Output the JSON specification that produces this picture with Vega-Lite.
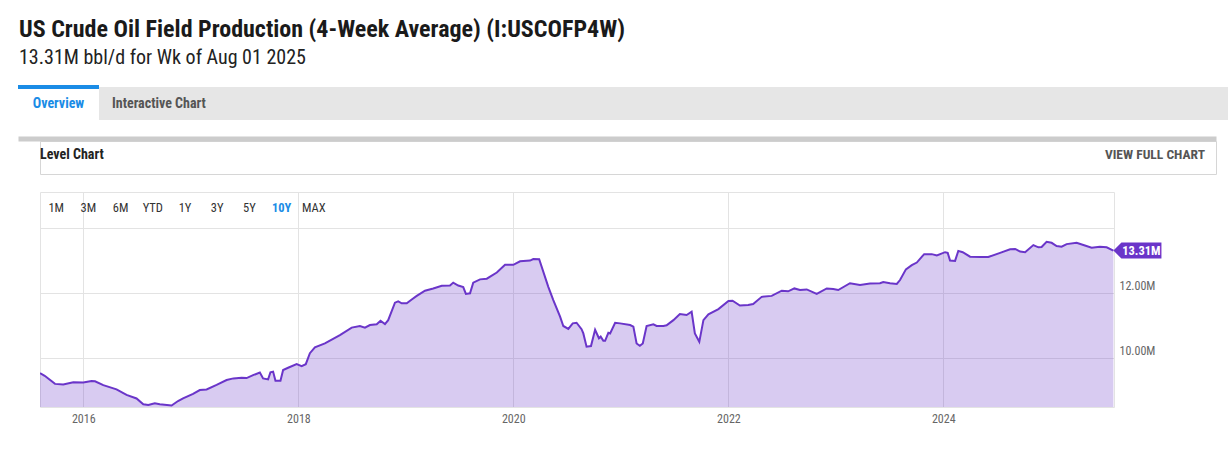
{
  "$schema": "https://vega.github.io/schema/vega-lite/v6.json",
  "padding": {"left": 16, "top": 18, "right": 0, "bottom": 0},
  "background": "white",
  "title": {
    "text": "US Crude Oil Field Production (4-Week Average) (I:USCOFP4W)",
    "subtitle": "13.31M bbl/d for Wk of Aug 01 2025",
    "anchor": "start",
    "frame": "group",
    "font": "Roboto Condensed, Liberation Sans Narrow, Roboto",
    "fontSize": 24,
    "fontWeight": "bold",
    "color": "#1a1a1a",
    "subtitleFont": "Roboto Condensed, Liberation Sans Narrow, Roboto",
    "subtitleFontSize": 20,
    "subtitleColor": "#222222",
    "subtitlePadding": 6,
    "offset": 17,
    "dx": -21
  },
  "datasets": {
    "tabs": [
      {"tab": "Overview", "active": true},
      {"tab": "Interactive Chart", "active": false}
    ],
    "header": [
      {"h": "Level Chart"},
      {"h": "VIEW FULL CHART"}
    ],
    "ranges": [
      {"range": "1M"}, {"range": "3M"}, {"range": "6M"}, {"range": "YTD"}, {"range": "1Y"},
      {"range": "3Y"}, {"range": "5Y"}, {"range": "10Y"}, {"range": "MAX"}
    ],
    "prod": [
      {"date": "2015-08-07", "value": 9520000},
      {"date": "2015-08-23", "value": 9440000},
      {"date": "2015-09-27", "value": 9190000},
      {"date": "2015-10-25", "value": 9170000},
      {"date": "2015-11-28", "value": 9240000},
      {"date": "2016-01-01", "value": 9230000},
      {"date": "2016-01-29", "value": 9280000},
      {"date": "2016-02-10", "value": 9270000},
      {"date": "2016-03-09", "value": 9150000},
      {"date": "2016-04-23", "value": 9020000},
      {"date": "2016-05-27", "value": 8850000},
      {"date": "2016-06-30", "value": 8740000},
      {"date": "2016-07-23", "value": 8560000},
      {"date": "2016-08-09", "value": 8540000},
      {"date": "2016-08-31", "value": 8590000},
      {"date": "2016-09-17", "value": 8560000},
      {"date": "2016-10-27", "value": 8520000},
      {"date": "2016-11-18", "value": 8660000},
      {"date": "2016-12-05", "value": 8740000},
      {"date": "2017-01-08", "value": 8880000},
      {"date": "2017-01-31", "value": 9000000},
      {"date": "2017-02-23", "value": 9020000},
      {"date": "2017-03-29", "value": 9160000},
      {"date": "2017-05-02", "value": 9310000},
      {"date": "2017-05-25", "value": 9360000},
      {"date": "2017-06-22", "value": 9380000},
      {"date": "2017-07-09", "value": 9370000},
      {"date": "2017-07-31", "value": 9460000},
      {"date": "2017-08-23", "value": 9540000},
      {"date": "2017-09-03", "value": 9360000},
      {"date": "2017-09-20", "value": 9330000},
      {"date": "2017-09-28", "value": 9550000},
      {"date": "2017-10-07", "value": 9570000},
      {"date": "2017-10-15", "value": 9290000},
      {"date": "2017-11-01", "value": 9290000},
      {"date": "2017-11-10", "value": 9620000},
      {"date": "2017-11-27", "value": 9690000},
      {"date": "2017-12-26", "value": 9800000},
      {"date": "2018-01-12", "value": 9740000},
      {"date": "2018-01-26", "value": 9800000},
      {"date": "2018-02-09", "value": 10140000},
      {"date": "2018-02-26", "value": 10320000},
      {"date": "2018-04-01", "value": 10440000},
      {"date": "2018-05-22", "value": 10700000},
      {"date": "2018-07-01", "value": 10930000},
      {"date": "2018-07-29", "value": 10980000},
      {"date": "2018-08-15", "value": 10930000},
      {"date": "2018-09-01", "value": 11010000},
      {"date": "2018-09-24", "value": 11030000},
      {"date": "2018-10-07", "value": 11140000},
      {"date": "2018-10-22", "value": 11040000},
      {"date": "2018-11-02", "value": 11160000},
      {"date": "2018-11-25", "value": 11700000},
      {"date": "2018-12-06", "value": 11740000},
      {"date": "2018-12-18", "value": 11680000},
      {"date": "2019-01-04", "value": 11680000},
      {"date": "2019-01-21", "value": 11800000},
      {"date": "2019-02-07", "value": 11910000},
      {"date": "2019-03-07", "value": 12070000},
      {"date": "2019-04-04", "value": 12140000},
      {"date": "2019-05-03", "value": 12220000},
      {"date": "2019-05-31", "value": 12230000},
      {"date": "2019-06-11", "value": 12320000},
      {"date": "2019-06-28", "value": 12230000},
      {"date": "2019-07-15", "value": 12180000},
      {"date": "2019-07-24", "value": 11970000},
      {"date": "2019-08-07", "value": 11990000},
      {"date": "2019-08-18", "value": 12320000},
      {"date": "2019-09-10", "value": 12420000},
      {"date": "2019-10-03", "value": 12440000},
      {"date": "2019-11-06", "value": 12630000},
      {"date": "2019-12-04", "value": 12870000},
      {"date": "2020-01-01", "value": 12870000},
      {"date": "2020-01-24", "value": 12980000},
      {"date": "2020-02-27", "value": 13000000},
      {"date": "2020-03-09", "value": 13050000},
      {"date": "2020-03-29", "value": 13040000},
      {"date": "2020-04-29", "value": 12190000},
      {"date": "2020-05-16", "value": 11780000},
      {"date": "2020-06-08", "value": 11270000},
      {"date": "2020-06-19", "value": 10980000},
      {"date": "2020-07-06", "value": 10890000},
      {"date": "2020-07-21", "value": 11060000},
      {"date": "2020-08-03", "value": 11080000},
      {"date": "2020-08-20", "value": 10880000},
      {"date": "2020-08-26", "value": 10750000},
      {"date": "2020-09-06", "value": 10340000},
      {"date": "2020-09-21", "value": 10360000},
      {"date": "2020-10-05", "value": 10860000},
      {"date": "2020-10-18", "value": 10600000},
      {"date": "2020-10-24", "value": 10650000},
      {"date": "2020-11-02", "value": 10520000},
      {"date": "2020-11-08", "value": 10520000},
      {"date": "2020-11-19", "value": 10770000},
      {"date": "2020-11-25", "value": 10750000},
      {"date": "2020-12-12", "value": 11080000},
      {"date": "2020-12-29", "value": 11060000},
      {"date": "2021-02-01", "value": 11010000},
      {"date": "2021-02-12", "value": 10960000},
      {"date": "2021-02-23", "value": 10440000},
      {"date": "2021-03-06", "value": 10370000},
      {"date": "2021-03-16", "value": 10440000},
      {"date": "2021-03-29", "value": 10980000},
      {"date": "2021-04-21", "value": 11030000},
      {"date": "2021-05-02", "value": 10980000},
      {"date": "2021-05-25", "value": 10980000},
      {"date": "2021-06-05", "value": 11000000},
      {"date": "2021-06-28", "value": 11160000},
      {"date": "2021-07-20", "value": 11350000},
      {"date": "2021-08-12", "value": 11320000},
      {"date": "2021-08-29", "value": 11420000},
      {"date": "2021-09-09", "value": 10750000},
      {"date": "2021-09-24", "value": 10490000},
      {"date": "2021-10-08", "value": 11160000},
      {"date": "2021-10-25", "value": 11340000},
      {"date": "2021-11-28", "value": 11500000},
      {"date": "2022-01-01", "value": 11750000},
      {"date": "2022-01-15", "value": 11760000},
      {"date": "2022-02-09", "value": 11610000},
      {"date": "2022-03-09", "value": 11630000},
      {"date": "2022-03-26", "value": 11660000},
      {"date": "2022-04-24", "value": 11880000},
      {"date": "2022-05-28", "value": 11910000},
      {"date": "2022-07-01", "value": 12070000},
      {"date": "2022-07-23", "value": 12050000},
      {"date": "2022-08-13", "value": 12140000},
      {"date": "2022-09-01", "value": 12090000},
      {"date": "2022-09-24", "value": 12110000},
      {"date": "2022-10-28", "value": 11970000},
      {"date": "2022-12-01", "value": 12140000},
      {"date": "2022-12-23", "value": 12120000},
      {"date": "2023-01-09", "value": 12090000},
      {"date": "2023-02-18", "value": 12300000},
      {"date": "2023-03-24", "value": 12250000},
      {"date": "2023-04-27", "value": 12290000},
      {"date": "2023-05-31", "value": 12300000},
      {"date": "2023-06-11", "value": 12340000},
      {"date": "2023-07-04", "value": 12300000},
      {"date": "2023-07-27", "value": 12280000},
      {"date": "2023-08-07", "value": 12400000},
      {"date": "2023-08-27", "value": 12730000},
      {"date": "2023-09-16", "value": 12860000},
      {"date": "2023-10-03", "value": 12940000},
      {"date": "2023-10-28", "value": 13200000},
      {"date": "2023-11-23", "value": 13200000},
      {"date": "2023-12-10", "value": 13160000},
      {"date": "2024-01-07", "value": 13260000},
      {"date": "2024-01-16", "value": 13240000},
      {"date": "2024-01-24", "value": 13000000},
      {"date": "2024-02-10", "value": 12990000},
      {"date": "2024-02-21", "value": 13300000},
      {"date": "2024-03-07", "value": 13260000},
      {"date": "2024-04-01", "value": 13120000},
      {"date": "2024-05-05", "value": 13110000},
      {"date": "2024-06-02", "value": 13110000},
      {"date": "2024-07-12", "value": 13240000},
      {"date": "2024-08-15", "value": 13350000},
      {"date": "2024-09-01", "value": 13360000},
      {"date": "2024-09-18", "value": 13280000},
      {"date": "2024-10-05", "value": 13260000},
      {"date": "2024-11-02", "value": 13480000},
      {"date": "2024-11-19", "value": 13410000},
      {"date": "2024-11-30", "value": 13420000},
      {"date": "2024-12-17", "value": 13580000},
      {"date": "2025-01-03", "value": 13550000},
      {"date": "2025-01-20", "value": 13450000},
      {"date": "2025-02-06", "value": 13430000},
      {"date": "2025-02-23", "value": 13510000},
      {"date": "2025-03-29", "value": 13550000},
      {"date": "2025-04-21", "value": 13480000},
      {"date": "2025-05-19", "value": 13400000},
      {"date": "2025-06-16", "value": 13430000},
      {"date": "2025-07-09", "value": 13410000},
      {"date": "2025-08-01", "value": 13310000}
    ]
  },
  "spacing": 16,
  "vconcat": [
    {
      "data": {"name": "tabs"},
      "width": 1188,
      "height": 33,
      "view": {"fill": "#e6e6e6", "stroke": null},
      "layer": [
        {
          "transform": [{"filter": "datum.active"}],
          "mark": {"type": "bar", "color": "white", "stroke": "#1a8ce6", "strokeWidth": 4, "strokeDash": [81, 400]},
          "encoding": {
            "x": {"field": "tab", "type": "nominal", "scale": {"type": "band", "domain": ["Overview", "Interactive Chart"], "paddingInner": 0, "paddingOuter": 0, "range": [-22, 140]}, "axis": null}
          }
        },
        {
          "transform": [{"filter": "datum.active"}],
          "mark": {"type": "text", "font": "Roboto Condensed, Liberation Sans Narrow, Roboto", "fontSize": 14, "fontWeight": "bold", "color": "#1a8ce6", "baseline": "middle"},
          "encoding": {
            "x": {"field": "tab", "type": "nominal", "axis": null},
            "text": {"field": "tab"}
          }
        },
        {
          "transform": [{"filter": "!datum.active"}],
          "mark": {"type": "text", "align": "left", "dx": 13, "font": "Roboto Condensed, Liberation Sans Narrow, Roboto", "fontSize": 14, "fontWeight": "bold", "color": "#555555", "baseline": "middle"},
          "encoding": {
            "x": {"field": "tab", "type": "nominal", "bandPosition": 0, "axis": null},
            "text": {"field": "tab"}
          }
        }
      ]
    },
    {
      "data": {"name": "header"},
      "width": 1176,
      "height": 33,
      "view": {"stroke": "#d6d6d6", "fill": null},
      "layer": [
        {
          "transform": [{"filter": "datum.h === 'Level Chart'"}],
          "mark": {"type": "text", "align": "left", "dx": 22, "dy": -3, "font": "Roboto Condensed, Liberation Sans Narrow, Roboto", "fontSize": 14, "fontWeight": "bold", "color": "#222222", "baseline": "middle"},
          "encoding": {
            "x": {"field": "h", "type": "nominal", "scale": {"type": "point", "padding": 0, "domain": ["Level Chart", "VIEW FULL CHART"], "range": [-22, 1176]},
              "axis": {"orient": "top", "offset": 2.5, "domain": true, "domainColor": "#cccccc", "domainWidth": 5, "labels": false, "ticks": false, "grid": false, "title": null}},
            "text": {"field": "h"}
          }
        },
        {
          "transform": [{"filter": "datum.h === 'VIEW FULL CHART'"}],
          "mark": {"type": "text", "align": "right", "dx": -11, "dy": -3, "font": "Roboto Condensed, Liberation Sans Narrow, Roboto", "fontSize": 13.5, "fontWeight": "bold", "color": "#555555", "baseline": "middle"},
          "encoding": {
            "x": {"field": "h", "type": "nominal",
              "axis": {"orient": "top", "offset": 2.5, "domain": true, "domainColor": "#cccccc", "domainWidth": 5, "labels": false, "ticks": false, "grid": false, "title": null}},
            "text": {"field": "h"}
          }
        }
      ]
    },
    {
      "width": 1074,
      "height": 215,
      "view": {"stroke": "#e3e3e3", "fill": "white"},
      "layer": [
        {
          "data": {"name": "prod"},
          "mark": {"type": "area", "color": "#6a35c9", "opacity": 0.26, "clip": true},
          "encoding": {
            "x": {"field": "date", "type": "temporal",
              "scale": {"type": "utc", "domain": [{"year": 2015, "month": 8, "date": 7, "utc": true}, {"year": 2025, "month": 8, "date": 3, "utc": true}]},
              "axis": {"orient": "bottom", "values": [
                {"year": 2016, "month": 1, "date": 1, "utc": true},
                {"year": 2018, "month": 1, "date": 1, "utc": true},
                {"year": 2020, "month": 1, "date": 1, "utc": true},
                {"year": 2022, "month": 1, "date": 1, "utc": true},
                {"year": 2024, "month": 1, "date": 1, "utc": true}],
                "format": "%Y", "formatType": "utc", "grid": true, "gridColor": "#e3e3e3", "domain": false, "ticks": false,
                "labelPadding": 6, "labelColor": "#666666", "labelFontSize": 12, "labelFont": "Roboto Condensed, Liberation Sans Narrow, Roboto", "title": null}},
            "y": {"field": "value", "type": "quantitative",
              "scale": {"domain": [8476000, 15120000], "zero": false, "nice": false},
              "axis": {"orient": "right", "values": [10000000, 12000000, 14000000], "format": ".4s",
                "labelExpr": "datum.value > 13000000 ? '' : datum.label",
                "grid": true, "gridColor": "#e3e3e3", "domain": false, "ticks": false,
                "labelPadding": 5, "labelBaseline": "bottom", "labelColor": "#666666", "labelFontSize": 12,
                "labelFont": "Roboto Condensed, Liberation Sans Narrow, Roboto", "title": null}}
          }
        },
        {
          "data": {"name": "prod"},
          "mark": {"type": "line", "color": "#6a35c9", "strokeWidth": 2, "clip": true},
          "encoding": {
            "x": {"field": "date", "type": "temporal", "scale": {"type": "utc", "domain": [{"year": 2015, "month": 8, "date": 7, "utc": true}, {"year": 2025, "month": 8, "date": 3, "utc": true}]}, "axis": null},
            "y": {"field": "value", "type": "quantitative", "scale": {"domain": [8476000, 15120000], "zero": false, "nice": false}, "axis": null}
          }
        },
        {
          "data": {"name": "prod"},
          "transform": [
            {"window": [{"op": "row_number", "as": "rn"}], "sort": [{"field": "date", "order": "descending"}]},
            {"filter": "datum.rn === 1"}
          ],
          "mark": {"type": "point", "shape": "M0,0L1,-1L6,-1L6,1L1,1Z", "size": 256, "filled": true, "opacity": 1, "color": "#6a35c9", "strokeWidth": 0},
          "encoding": {
            "x": {"field": "date", "type": "temporal", "scale": {"type": "utc", "domain": [{"year": 2015, "month": 8, "date": 7, "utc": true}, {"year": 2025, "month": 8, "date": 3, "utc": true}]}, "axis": null},
            "y": {"field": "value", "type": "quantitative", "scale": {"domain": [8476000, 15120000], "zero": false, "nice": false}, "axis": null}
          }
        },
        {
          "data": {"name": "prod"},
          "transform": [
            {"window": [{"op": "row_number", "as": "rn"}], "sort": [{"field": "date", "order": "descending"}]},
            {"filter": "datum.rn === 1"}
          ],
          "mark": {"type": "text", "dx": 28, "align": "center", "baseline": "middle", "color": "white", "fontWeight": "bold", "fontSize": 12.5, "font": "Roboto Condensed, Liberation Sans Narrow, Roboto"},
          "encoding": {
            "x": {"field": "date", "type": "temporal", "scale": {"type": "utc", "domain": [{"year": 2015, "month": 8, "date": 7, "utc": true}, {"year": 2025, "month": 8, "date": 3, "utc": true}]}, "axis": null},
            "y": {"field": "value", "type": "quantitative", "scale": {"domain": [8476000, 15120000], "zero": false, "nice": false}, "axis": null},
            "text": {"field": "value", "type": "quantitative", "format": ".4s"}
          }
        },
        {
          "data": {"name": "ranges"},
          "mark": {"type": "point", "opacity": 0},
          "encoding": {
            "x": {"field": "range", "type": "nominal", "sort": null,
              "scale": {"type": "point", "padding": 0, "range": [15.7, 273.3]},
              "axis": {"orient": "top", "offset": -22, "domain": false, "ticks": false, "grid": false, "labelPadding": 0, "labelAngle": 0,
                "labelFont": "Roboto Condensed, Liberation Sans Narrow, Roboto", "labelFontSize": 12.5,
                "labelColor": {"condition": {"test": "datum.value === '10Y'", "value": "#1a8ce6"}, "value": "#333333"},
                "labelFontWeight": {"condition": {"test": "datum.value === '10Y'", "value": "bold"}, "value": "normal"},
                "title": null}}
          }
        }
      ],
      "resolve": {"scale": {"x": "independent", "y": "independent"}, "axis": {"x": "independent", "y": "independent"}}
    }
  ],
  "config": {
    "view": {"stroke": null},
    "font": "Roboto Condensed, Liberation Sans Narrow, Roboto"
  }
}
